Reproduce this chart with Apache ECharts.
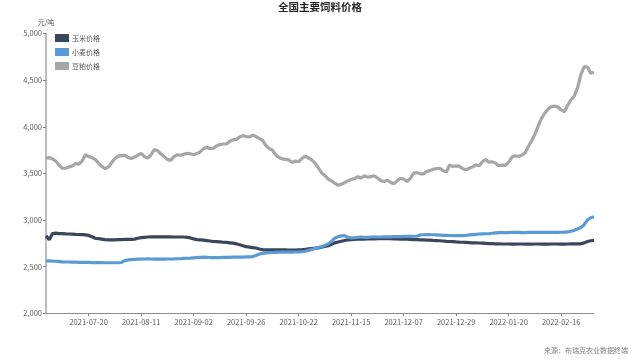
<!DOCTYPE html>
<html>
<head>
<meta charset="utf-8">
<script src="https://cdn.jsdelivr.net/npm/echarts@6/dist/echarts.min.js"></script>
<style>html,body{margin:0;padding:0;background:#fff}#c{width:640px;height:360px}</style>
</head>
<body>
<div id="c"></div>
<script>
// Trading-day calendar (China, 2021-07-01 .. 2022-03-02)
const startDate = '2021-07-01';
const endDate = '2022-03-02';
const holidays = ['2021-09-20','2021-09-21','2021-10-01','2021-10-04','2021-10-05','2021-10-06','2021-10-07',
  '2022-01-31','2022-02-01','2022-02-02','2022-02-03','2022-02-04'];
const extraWorkdays = ['2021-09-18','2021-09-26','2021-10-09','2022-01-29','2022-01-30'];
const tickLabels = ['2021-07-20','2021-08-11','2021-09-02','2021-09-26','2021-10-22','2021-11-15',
  '2021-12-07','2021-12-29','2022-01-20','2022-02-16'];
const seriesNames = ['玉米价格','小麦价格','豆粕价格'];
const yTicks = [2000, 2500, 3000, 3500, 4000, 4500, 5000];

const corn = [
2830,2790,2855,2860,2855,2855,2852,2850,2848,2846,
2845,2843,2840,2835,2820,2805,2800,2795,2790,2788,
2788,2788,2790,2790,2792,2792,2793,2795,2805,2812,
2815,2818,2820,2820,2820,2820,2820,2820,2820,2818,
2818,2818,2818,2815,2808,2798,2790,2788,2785,2780,
2775,2770,2768,2765,2762,2760,2756,2752,2745,2735,
2725,2715,2710,2705,2700,2690,2683,2680,2680,2680,
2680,2680,2680,2680,2678,2678,2678,2680,2682,2685,
2690,2695,2698,2702,2708,2718,2725,2740,2755,2765,
2772,2780,2788,2790,2793,2795,2795,2796,2797,2798,
2798,2800,2800,2800,2800,2800,2798,2797,2795,2795,
2795,2792,2790,2790,2788,2788,2785,2785,2782,2780,
2778,2775,2772,2770,2768,2765,2763,2762,2760,2758,
2756,2755,2754,2752,2750,2748,2747,2745,2745,2743,
2743,2743,2742,2742,2743,2743,2742,2742,2742,2743,
2743,2742,2742,2742,2743,2743,2743,2742,2742,2743,
2744,2745,2745,2745,2755,2770,2778,2782];

const wheat = [
2562,2562,2560,2558,2555,2552,2550,2550,2548,2548,
2546,2546,2545,2545,2544,2544,2543,2543,2542,2542,
2542,2542,2542,2545,2565,2572,2575,2578,2580,2580,
2582,2585,2582,2580,2580,2580,2580,2582,2582,2583,
2585,2585,2588,2590,2592,2595,2598,2600,2602,2600,
2598,2598,2598,2598,2600,2600,2600,2602,2602,2602,
2603,2604,2605,2608,2620,2635,2643,2648,2650,2652,
2654,2655,2655,2655,2656,2656,2657,2658,2660,2665,
2675,2685,2695,2705,2715,2728,2745,2770,2805,2822,
2830,2832,2815,2808,2810,2815,2818,2815,2815,2818,
2818,2818,2818,2820,2820,2820,2822,2822,2823,2824,
2825,2825,2826,2826,2840,2842,2843,2843,2842,2840,
2838,2836,2835,2834,2833,2832,2832,2833,2836,2840,
2843,2846,2850,2852,2853,2855,2858,2862,2865,2866,
2866,2866,2867,2867,2867,2866,2866,2867,2867,2867,
2868,2868,2868,2867,2867,2868,2868,2869,2870,2872,
2880,2890,2905,2920,2950,3000,3025,3035];

const soymeal = [
3665,3670,3655,3630,3590,3555,3555,3570,3580,3605,
3600,3630,3700,3680,3670,3650,3610,3575,3550,3570,
3615,3660,3685,3690,3695,3670,3660,3675,3695,3715,
3680,3665,3700,3755,3745,3710,3680,3650,3640,3680,
3700,3695,3705,3715,3710,3700,3715,3730,3765,3780,
3765,3770,3795,3810,3815,3815,3845,3860,3865,3890,
3905,3895,3890,3910,3895,3875,3855,3800,3765,3750,
3700,3670,3655,3650,3645,3618,3632,3625,3660,3685,
3665,3645,3610,3560,3505,3475,3440,3420,3395,3372,
3385,3400,3420,3435,3445,3465,3450,3475,3460,3465,
3475,3450,3425,3412,3428,3405,3390,3420,3445,3440,
3413,3445,3500,3510,3495,3495,3520,3530,3545,3552,
3555,3530,3515,3590,3575,3580,3575,3550,3540,3555,
3570,3590,3582,3625,3648,3620,3625,3610,3582,3588,
3585,3620,3675,3690,3681,3695,3720,3788,3850,3920,
4010,4090,4145,4190,4215,4222,4212,4180,4160,4230,
4290,4330,4420,4560,4645,4640,4575,4585];

function buildDates(s, e, hol, extra) {
  const out = [];
  const d = new Date(s + 'T00:00:00Z');
  const end = new Date(e + 'T00:00:00Z');
  while (d <= end) {
    const str = d.toISOString().slice(0, 10);
    const wd = d.getUTCDay();
    const work = (wd !== 0 && wd !== 6 && hol.indexOf(str) < 0) || extra.indexOf(str) >= 0;
    if (work) out.push(str);
    d.setUTCDate(d.getUTCDate() + 1);
  }
  return out;
}
const categories = buildDates(startDate, endDate, holidays, extraWorkdays);

const colors = ['#3a4659', '#5b9bd5', '#a6a6a6'];
const FONT = '"Noto Sans CJK SC", "Noto Sans", sans-serif';
const showTick = (idx, val) => tickLabels.indexOf(val) >= 0;

const chart = echarts.init(document.getElementById('c'), null, {renderer: 'canvas'});
chart.setOption({
  animation: false,
  backgroundColor: '#ffffff',
  textStyle: {fontFamily: FONT},
  color: colors,
  title: {
    text: '全国主要饲料价格',
    left: 'center',
    top: -3,
    textStyle: {fontSize: 10.5, fontWeight: 'bold', color: '#262626', fontFamily: FONT}
  },
  legend: {
    orient: 'vertical',
    left: 50,
    top: 29,
    itemWidth: 14,
    itemHeight: 8,
    itemGap: 6,
    icon: 'rect',
    data: seriesNames,
    textStyle: {fontSize: 7, color: '#595959', fontFamily: FONT, padding: [0, 0, 0, -2]}
  },
  graphic: [{
    type: 'text',
    right: 12,
    top: 347,
    style: {text: '来源：布瑞克农业数据终端', fontSize: 7, fill: '#7f7f7f', fontFamily: FONT}
  }],
  grid: {left: 46, right: 46, top: 33.5, bottom: 46.7, containLabel: false},
  xAxis: {
    type: 'category',
    data: categories,
    boundaryGap: false,
    axisLine: {lineStyle: {color: '#8c8c8c', width: 1}},
    axisTick: {show: true, interval: showTick, length: 3, lineStyle: {color: '#8c8c8c'}},
    axisLabel: {interval: showTick, fontSize: 7.5, color: '#595959', margin: 5, fontFamily: FONT}
  },
  yAxis: {
    type: 'value',
    min: yTicks[0],
    max: yTicks[yTicks.length - 1],
    interval: 500,
    name: '元/吨',
    nameGap: 8,
    nameTextStyle: {fontSize: 7, color: '#595959', align: 'center', fontFamily: FONT},
    splitLine: {show: false},
    axisLine: {show: true, lineStyle: {color: '#a6a6a6', width: 1.5}},
    axisTick: {show: true, length: 3, lineStyle: {color: '#8c8c8c'}},
    axisLabel: {
      fontSize: 7.5, color: '#595959', margin: 4, fontFamily: FONT,
      formatter: v => v.toLocaleString('en-US')
    }
  },
  series: [
    {name: seriesNames[0], type: 'line', data: corn, showSymbol: false, lineStyle: {width: 3.2, color: colors[0]}, itemStyle: {color: colors[0]}, z: 3},
    {name: seriesNames[1], type: 'line', data: wheat, showSymbol: false, lineStyle: {width: 3.2, color: colors[1]}, itemStyle: {color: colors[1]}, z: 4},
    {name: seriesNames[2], type: 'line', data: soymeal, showSymbol: false, lineStyle: {width: 3.2, color: colors[2]}, itemStyle: {color: colors[2]}, z: 2}
  ]
});
</script>
</body>
</html>
